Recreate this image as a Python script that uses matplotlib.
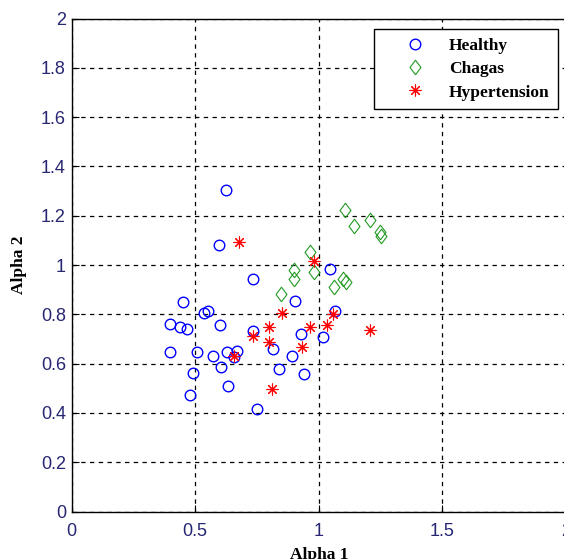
import matplotlib
matplotlib.use("Agg")
import matplotlib.pyplot as plt

# values
healthy_x = [0.625, 0.595, 0.734, 0.450, 0.537, 0.552, 0.400, 0.438, 0.469, 0.602,
             0.734, 0.397, 0.508, 0.572, 0.629, 0.669, 0.656, 0.606, 0.490, 0.632,
             0.478, 0.750, 1.044, 0.905, 1.067, 0.928, 1.017, 0.815, 0.892, 0.840,
             0.939]
healthy_y = [1.306, 1.080, 0.945, 0.850, 0.806, 0.814, 0.760, 0.747, 0.740, 0.756,
             0.733, 0.648, 0.648, 0.632, 0.648, 0.651, 0.628, 0.585, 0.560, 0.509,
             0.472, 0.416, 0.985, 0.853, 0.814, 0.719, 0.709, 0.659, 0.632, 0.577,
             0.556]

chagas_x = [1.107, 1.143, 1.208, 1.248, 1.251, 0.963, 0.898, 0.898, 0.979, 1.100,
            1.111, 1.063, 0.847]
chagas_y = [1.225, 1.157, 1.184, 1.134, 1.116, 1.053, 0.979, 0.945, 0.972, 0.945,
            0.931, 0.911, 0.881]

hyper_x = [0.679, 0.982, 0.851, 1.056, 0.797, 0.734, 0.966, 1.033, 1.208, 0.797,
           0.932, 0.659, 0.811]
hyper_y = [1.093, 1.016, 0.806, 0.800, 0.749, 0.713, 0.749, 0.756, 0.736, 0.688,
           0.668, 0.632, 0.496]

x_ticks = [0, 0.5, 1, 1.5, 2]
x_labels = ["0", "0.5", "1", "1.5", "2"]
y_ticks = [0, 0.2, 0.4, 0.6, 0.8, 1, 1.2, 1.4, 1.6, 1.8, 2]
y_labels = ["0", "0.2", "0.4", "0.6", "0.8", "1", "1.2", "1.4", "1.6", "1.8", "2"]

W, H = 564, 559
fig = plt.figure(figsize=(W / 100, H / 100), dpi=100)
ax = fig.add_axes([71.5 / W, 1 - 511.5 / H, 494.5 / W, 493 / H])

diamond = [(0, -1), (0.75, 0), (0, 1), (-0.75, 0), (0, -1)]

ax.plot(healthy_x, healthy_y, linestyle="none", marker="o", markersize=7.6,
        markerfacecolor="none", markeredgecolor="#0000ff", markeredgewidth=1.0,
        label="Healthy")
ax.plot(chagas_x, chagas_y, linestyle="none", marker=diamond, markersize=10.5,
        markerfacecolor="none", markeredgecolor="#229a22", markeredgewidth=0.8,
        label="Chagas")
ax.plot(hyper_x, hyper_y, linestyle="none", marker=(8, 2, 0), markersize=8.5,
        markeredgecolor="#ff0000", markerfacecolor="#ff0000", markeredgewidth=0.8,
        label="Hypertension")

ax.set_xlim(0, 2)
ax.set_ylim(0, 2)
ax.set_xticks(x_ticks)
ax.set_xticklabels(x_labels)
ax.set_yticks(y_ticks)
ax.set_yticklabels(y_labels)

for lab in ax.get_xticklabels() + ax.get_yticklabels():
    lab.set_fontfamily("Liberation Sans")
    lab.set_fontsize(13)
    lab.set_color("#262673")
ax.tick_params(axis="both", direction="in", length=5, width=0.8, color="black")
ax.tick_params(axis="x", pad=8)
ax.tick_params(axis="y", pad=4)

ax.grid(True, color="black", linestyle=(0, (3.5, 3.5)), linewidth=0.9)
for sp in ax.spines.values():
    sp.set_color("black")
    sp.set_linewidth(1.0)

label_font = dict(family="Liberation Serif", weight="bold", size=12.5)
ax.set_xlabel("Alpha 1", labelpad=5, **label_font)
ax.set_ylabel("Alpha 2", labelpad=10, **label_font)

leg = ax.legend(loc="upper left", bbox_to_anchor=(0.612, 0.979), borderaxespad=0,
                fancybox=False, edgecolor="black", framealpha=1,
                prop=dict(family="Liberation Serif", weight="bold", size=12.5),
                handlelength=3.7, handletextpad=0.1, labelspacing=0.42,
                borderpad=0.5)
leg.get_frame().set_linewidth(1.0)

fig.savefig("out.png", dpi=100)
